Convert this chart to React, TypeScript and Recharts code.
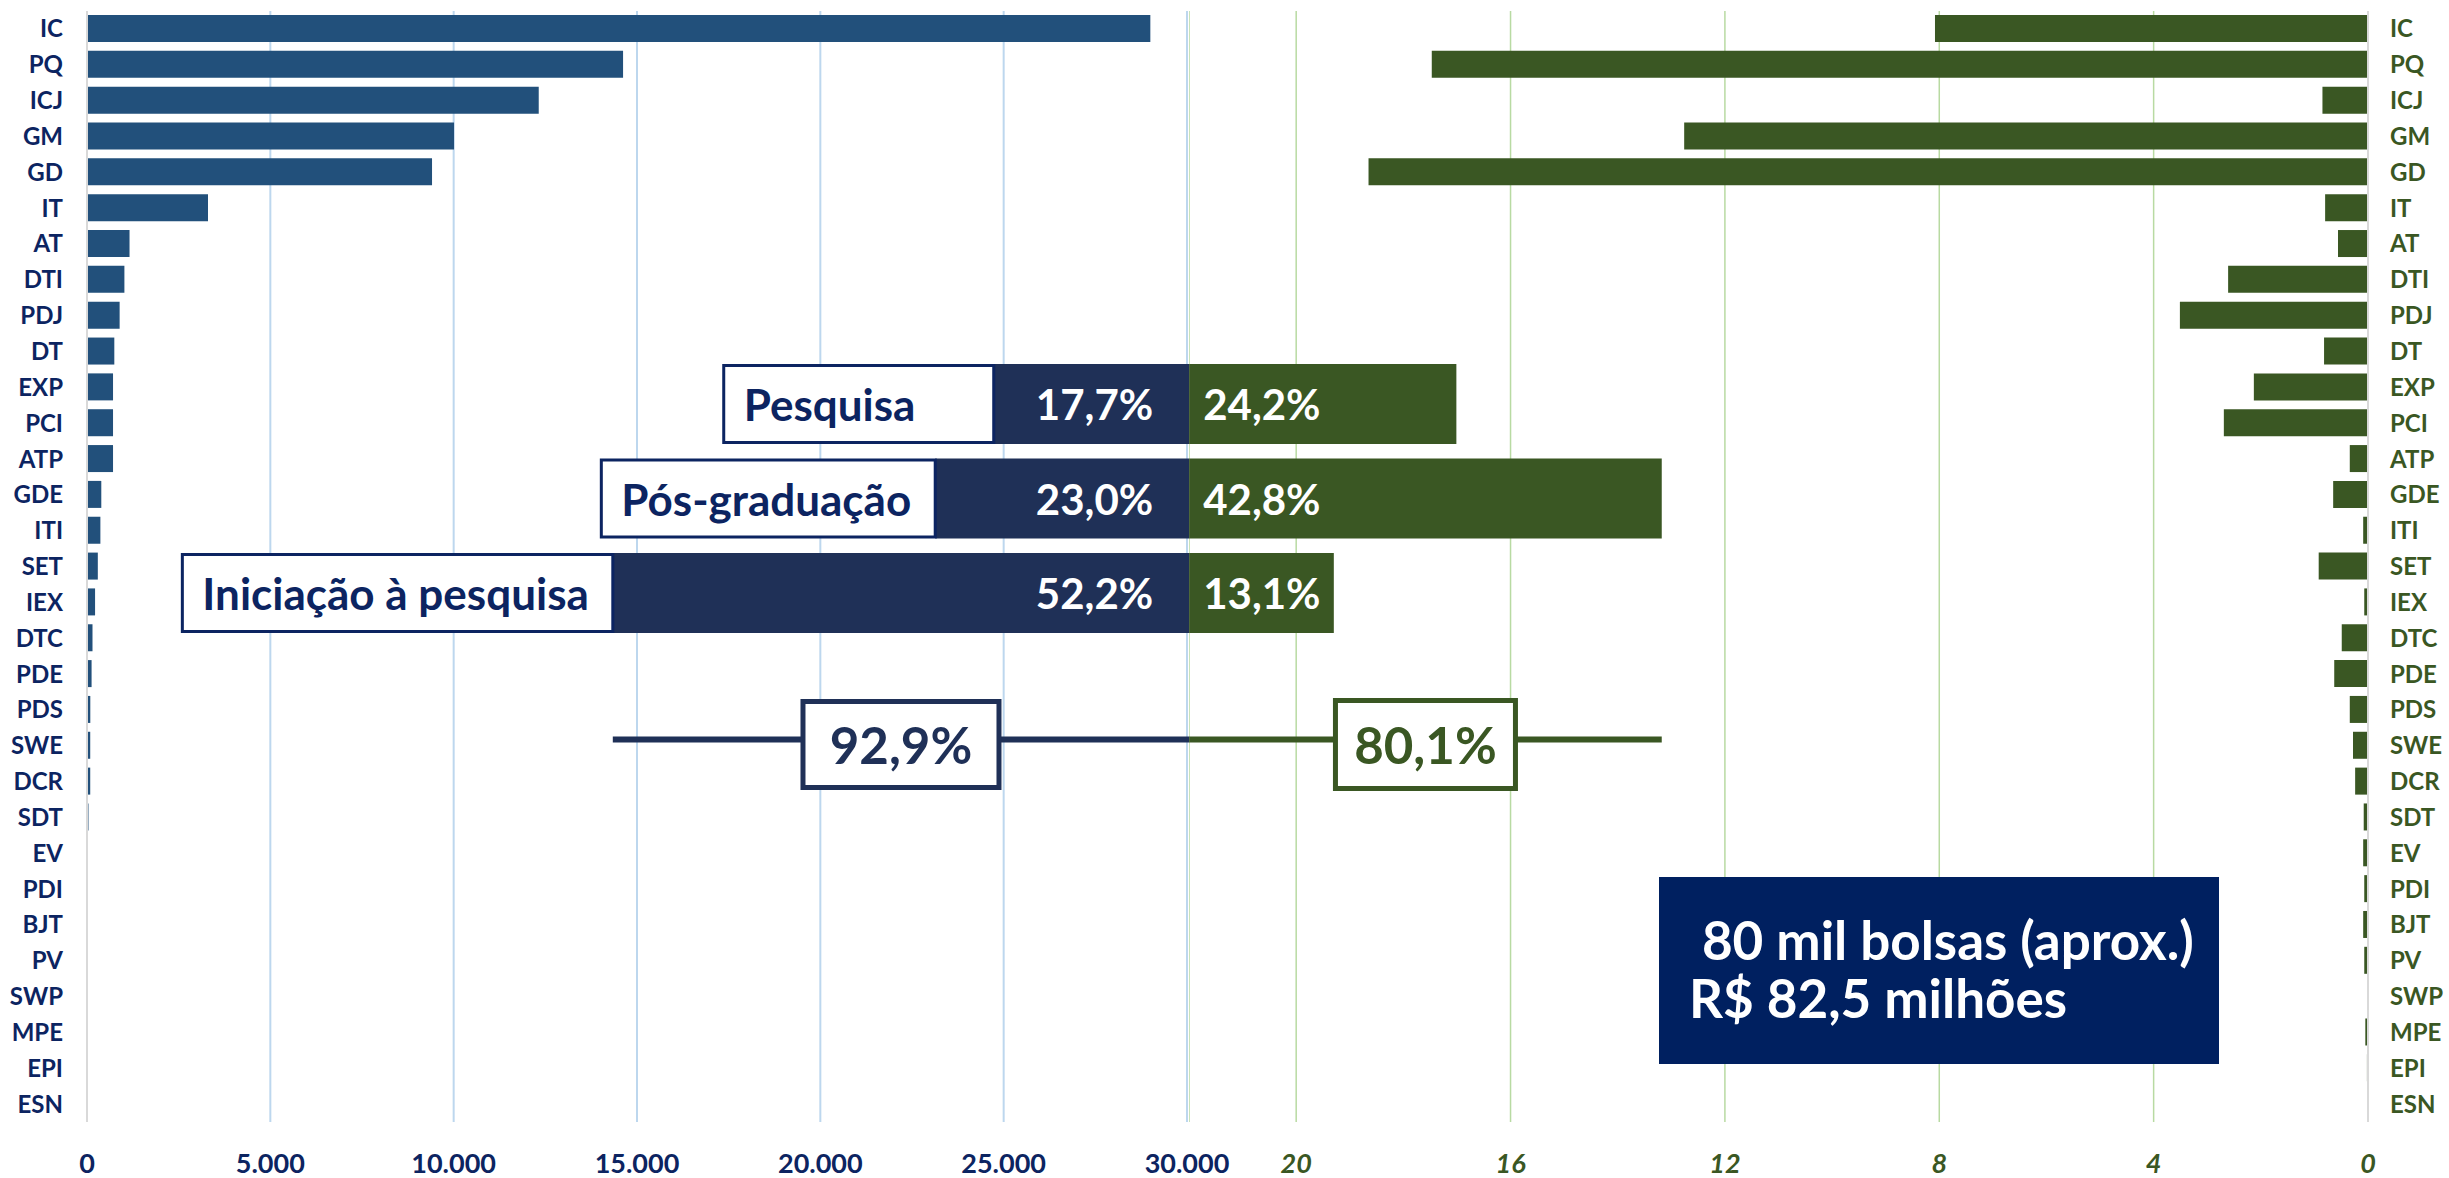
import { BarChart, Bar, XAxis, YAxis, CartesianGrid } from 'recharts';

const FONT = 'Lato, "Open Sans", sans-serif';
const NAVY = '#0c2461';
const NAVY_BAR = '#1f3057';
const BLUE = '#22507b';
const GREEN = '#3a5723';

// modalidades de bolsa
const categories = ['IC', 'PQ', 'ICJ', 'GM', 'GD', 'IT', 'AT', 'DTI', 'PDJ', 'DT', 'EXP', 'PCI', 'ATP', 'GDE', 'ITI', 'SET', 'IEX', 'DTC', 'PDE', 'PDS', 'SWE', 'DCR', 'SDT', 'EV', 'PDI', 'BJT', 'PV', 'SWP', 'MPE', 'EPI', 'ESN'];
// número de bolsas
const bolsas = [29000, 14620, 12320, 10010, 9410, 3300, 1160, 1020, 890, 745, 710, 710, 710, 390, 365, 295, 220, 150, 125, 90, 88, 88, 40, 8, 6, 5, 5, 2, 3, 2, 1];
// valor pago (R$ milhões)
const valores = [8.08, 17.47, 0.85, 12.76, 18.65, 0.8, 0.56, 2.61, 3.51, 0.82, 2.13, 2.69, 0.34, 0.65, 0.09, 0.92, 0.07, 0.49, 0.63, 0.34, 0.28, 0.24, 0.08, 0.09, 0.07, 0.09, 0.07, 0, 0.05, 0.02, 0];

const leftTicks = [0, 5000, 10000, 15000, 20000, 25000, 30000];
const rightTicks = [0, 4, 8, 12, 16, 20];

// resumo por grupo (%)
const grupos = ['Pesquisa', 'Pós-graduação', 'Iniciação à pesquisa'];
const pctBolsas = [17.7, 23.0, 52.2];
const pctValores = [24.2, 42.8, 13.1];

const sum = (a: number[]) => a.reduce((s, v) => s + v, 0);
const pct = (v: number) => v.toFixed(1).replace('.', ',') + '%';
const milhar = (v: number) => String(v).replace(/\B(?=(\d{3})+(?!\d))/g, '.');

const rows = categories.map((name, i) => ({ name, bolsas: bolsas[i], valores: valores[i] }));

const resumo: any[] = [
  ...grupos.map((name, i) => ({ name, azul: -pctBolsas[i], verde: pctValores[i] })),
  {
    name: 'Total',
    linhaAzul: -Math.max(...pctBolsas),
    linhaVerde: Math.max(...pctValores),
    totalAzul: sum(pctBolsas),
    totalVerde: sum(pctValores),
  },
];

let ctx: CanvasRenderingContext2D | null = null;
function textWidth(t: string, font: string) {
  if (!ctx) ctx = document.createElement('canvas').getContext('2d');
  if (!ctx) return t.length * 22;
  ctx.font = font;
  return ctx.measureText(t).width;
}

const span = (p: any) => ({ left: Math.min(p.x, p.x + p.width), w: Math.abs(p.width) });

function AzulShape(p: any) {
  if (p.payload?.azul == null) return <g />;
  const { left, w } = span(p);
  const cy = p.y + p.height / 2;
  const bw = Math.max(textWidth(p.payload.name, 'bold 44px Lato') + 44, 270);
  return (
    <g>
      <rect x={left} y={p.y} width={w} height={p.height} fill={NAVY_BAR} />
      <text x={left + w - 36} y={cy} textAnchor="end" dominantBaseline="central" fill="#fff" fontSize={42} fontWeight="bold">
        {pct(-p.payload.azul)}
      </text>
      <rect x={left - bw} y={p.y + 1.5} width={bw} height={p.height - 3} fill="#fff" stroke={NAVY} strokeWidth={3} />
      <text x={left - bw + 20} y={cy} dominantBaseline="central" fill={NAVY} fontSize={44} fontWeight="bold">
        {p.payload.name}
      </text>
    </g>
  );
}

function VerdeShape(p: any) {
  if (p.payload?.verde == null) return <g />;
  const { left, w } = span(p);
  const cy = p.y + p.height / 2;
  return (
    <g>
      <rect x={left} y={p.y} width={w} height={p.height} fill={GREEN} />
      <text x={left + 14} y={cy} dominantBaseline="central" fill="#fff" fontSize={42} fontWeight="bold">
        {pct(p.payload.verde)}
      </text>
    </g>
  );
}

function LinhaShape(color: string, key: string, bw: number, bh: number) {
  return (p: any) => {
    if (p.payload?.[key] == null) return <g />;
    const { left, w } = span(p);
    const cy = p.y + p.height / 2 + 52;
    const mid = left + w / 2;
    return (
      <g>
        <line x1={left} x2={left + w} y1={cy} y2={cy} stroke={color} strokeWidth={6} />
        <rect x={mid - bw / 2} y={cy - bh / 2 + 5} width={bw} height={bh} fill="#fff" stroke={color} strokeWidth={5} />
        <text x={mid} y={cy + 5} textAnchor="middle" dominantBaseline="central" fill={color} fontSize={51} fontWeight="bold">
          {pct(p.payload[key])}
        </text>
      </g>
    );
  };
}

const yTick = (fill: string) => ({ fill, fontSize: 24, fontWeight: 'bold' });

export default function App() {
  return (
    <div style={{ position: 'absolute', left: 0, top: 0, width: 2449, height: 1178, background: '#fff', fontFamily: FONT, overflow: 'hidden' }}>
      <div style={{ position: 'absolute', left: 0, top: 0 }}>
        <BarChart width={1230} height={1178} data={rows} layout="vertical" margin={{ top: 11, right: 43, bottom: 0, left: 0 }}>
          <CartesianGrid horizontal={false} stroke="#bdd7ee" strokeWidth={2} />
          <XAxis type="number" domain={[0, 30000]} ticks={leftTicks} tickFormatter={milhar} axisLine={false} tickLine={false} tickSize={0} tickMargin={32} height={56} interval={0}
            tick={{ fill: NAVY, fontSize: 27, fontWeight: 'bold' }} />
          <YAxis type="category" dataKey="name" width={87} interval={0} tickLine={false} tickSize={0} tickMargin={24} axisLine={{ stroke: '#d9d9d9', strokeWidth: 2 }} tick={yTick(NAVY)} />
          <Bar dataKey="bolsas" fill={BLUE} barSize={27} isAnimationActive={false} />
        </BarChart>
      </div>
      <div style={{ position: 'absolute', left: 1189, top: 0 }}>
        <BarChart width={1260} height={1178} data={rows} layout="vertical" margin={{ top: 11, right: 0, bottom: 0, left: 0 }}>
          <CartesianGrid horizontal={false} stroke="#b8daa2" strokeWidth={1.5} />
          <XAxis type="number" domain={[0, 22]} ticks={rightTicks} reversed axisLine={false} tickLine={false} tickSize={0} tickMargin={32} height={56} interval={0}
            tick={{ fill: GREEN, fontSize: 27, fontWeight: 'bold', fontStyle: 'italic' }} />
          <YAxis type="category" dataKey="name" orientation="right" width={81} interval={0} tickLine={false} tickSize={0} tickMargin={22} axisLine={{ stroke: '#d9d9d9', strokeWidth: 2 }} tick={yTick(GREEN)} />
          <Bar dataKey="valores" fill={GREEN} barSize={27} isAnimationActive={false} />
        </BarChart>
      </div>
      <div style={{ position: 'absolute', left: 0, top: 357, pointerEvents: 'none' }}>
        <BarChart width={2449} height={498} data={resumo} layout="vertical" stackOffset="sign" margin={{ top: 0, right: 0, bottom: 120, left: 0 }}>
          <XAxis type="number" hide domain={[-107.7, 114.1]} />
          <YAxis type="category" dataKey="name" hide />
          <Bar dataKey="azul" stackId="s" barSize={80} shape={AzulShape} isAnimationActive={false} />
          <Bar dataKey="verde" stackId="s" barSize={80} shape={VerdeShape} isAnimationActive={false} />
          <Bar dataKey="linhaAzul" stackId="s" barSize={80} shape={LinhaShape(NAVY_BAR, 'totalAzul', 196, 86)} isAnimationActive={false} />
          <Bar dataKey="linhaVerde" stackId="s" barSize={80} shape={LinhaShape(GREEN, 'totalVerde', 180, 88)} isAnimationActive={false} />
        </BarChart>
      </div>
      <div style={{ position: 'absolute', left: 1659, top: 877, width: 560, height: 187, background: '#002060', color: '#fff', fontWeight: 'bold', fontSize: 53, lineHeight: '58px', boxSizing: 'border-box', padding: '34px 0 0 30px', whiteSpace: 'pre' }}>
        <div> 80 mil bolsas (aprox.)</div>
        <div>R$ 82,5 milhões</div>
      </div>
    </div>
  );
}
